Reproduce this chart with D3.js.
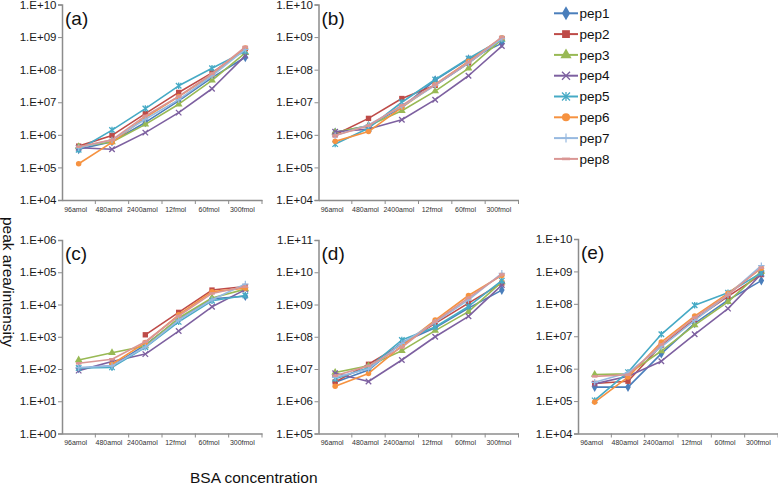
<!DOCTYPE html>
<html><head><meta charset="utf-8">
<script src="https://cdn.jsdelivr.net/npm/d3@7"></script>
<style>body{margin:0;background:#fff}svg{display:block}text{font-family:"Liberation Sans",Arial,sans-serif}</style>
</head><body><svg id="c" width="778" height="487"></svg>
<script>
const categories = ["96amol","480amol","2400amol","12fmol","60fmol","300fmol"];
const peptides = ["pep1","pep2","pep3","pep4","pep5","pep6","pep7","pep8"];
const colors = ["#4A7EBB","#BE4B48","#98B954","#7D60A0","#46AAC5","#F69240","#97B9E0","#DA9694"];
const markers = ["diamond","square","triangle","x","star","circle","plus","dash"];

const panelA = [
  [3.6e5,6.2e5,2.4e6,1.1e7,5.7e7,2.4e8],
  [4.5e5,9.6e5,4.5e6,2.0e7,8.0e7,4.4e8],
  [4.3e5,6.0e5,2.1e6,8.7e6,4.7e7,3.3e8],
  [4.0e5,3.6e5,1.17e6,4.8e6,2.6e7,2.7e8],
  [3.5e5,1.4e6,6.4e6,3.2e7,1.1e8,3.7e8],
  [1.3e5,5.9e5,3.4e6,1.5e7,7.0e7,4.6e8],
  [4.0e5,7.0e5,3.0e6,1.2e7,6.5e7,4.2e8],
  [4.3e5,7.0e5,3.8e6,1.5e7,7.5e7,5.0e8]
];
const panelB = [
  [1.2e6,1.9e6,7e6,4.8e7,2.1e8,6.4e8],
  [1.0e6,3.2e6,1.3e7,3.3e7,1.6e8,9e8],
  [1.2e6,1.9e6,5.5e6,2.2e7,1.1e8,8.5e8],
  [1.25e6,1.5e6,2.9e6,1.2e7,6.5e7,5.3e8],
  [5.2e5,1.6e6,1.0e7,5.0e7,2.2e8,8.5e8],
  [6.3e5,1.26e6,7e6,3.5e7,1.8e8,9.5e8],
  [9.5e5,2.0e6,7.5e6,3.3e7,1.6e8,9e8],
  [9.5e5,1.9e6,8e6,3.5e7,1.7e8,1.0e9]
];
const panelC = [
  [105,125,560,3500,15000,18000],
  [null,null,1150,5700,28000,36000],
  [190,320,520,3800,16000,30000],
  [89,170,290,1500,8500,29000],
  [107,112,470,2900,13000,19000],
  [null,140,660,4800,25000,32000],
  [110,125,480,3300,14000,43000],
  [150,200,700,4400,22000,36000]
];
const panelD = [
  [3.9e6,9.3e6,6.6e7,1.9e8,7.7e8,2.8e9],
  [4.0e6,1.4e7,5.8e7,2.6e8,1.1e9,4.6e9],
  [7.8e6,1.25e7,3.7e7,1.55e8,6e8,5e9],
  [7.4e6,4.1e6,1.9e7,1.0e8,4.3e8,4.0e9],
  [5e6,1.1e7,7.9e7,2.0e8,8.7e8,5.5e9],
  [2.9e6,7.3e6,5.2e7,3.3e8,1.9e9,8e9],
  [5.5e6,1.0e7,6.2e7,2.8e8,1.4e9,9.3e9],
  [6.2e6,1.25e7,4.7e7,3.0e8,1.6e9,8.5e9]
];
const panelE = [
  [2.7e5,2.7e5,2.9e6,2.5e7,1.3e8,5.2e8],
  [3.5e5,4.1e5,5.3e6,3.3e7,1.7e8,8e8],
  [6.6e5,6.9e5,3.5e6,2.2e7,1.15e8,1.0e9],
  [3.4e5,5.8e5,1.7e6,1.15e7,7.1e7,8.3e8],
  [1.05e5,7.8e5,1.15e7,9e7,2.2e8,9e8],
  [9.3e4,5.5e5,6.6e6,4.2e7,2.1e8,1.25e9],
  [3.8e5,7.5e5,4.7e6,3.1e7,1.9e8,1.5e9],
  [5.8e5,6.5e5,5.6e6,3.8e7,1.9e8,1.3e9]
];
const panelLabels = ["(a)","(b)","(c)","(d)","(e)"];
const panelDomains = [[1e4,1e10],[1e4,1e10],[1,1e6],[1e5,1e11],[1e4,1e10]];
const panelData = [panelA,panelB,panelC,panelD,panelE];

// layout
const layout = [
  {x:62, top:4.5, bottom:200},
  {x:318.5, top:4.5, bottom:200},
  {x:62, top:240, bottom:433.5},
  {x:318.5, top:240, bottom:433.5},
  {x:578, top:239, bottom:433.5}
];
const plotW = 200;
const axisColor = "#8c8c8c";
const svg = d3.select("#c");

function markerPath(type, size){
  const s = size;
  switch(type){
    case "diamond": return d3.symbol(d3.symbolDiamond, s*s*0.9)();
    case "square": return d3.symbol(d3.symbolSquare, s*s*0.95)();
    case "triangle": return d3.symbol(d3.symbolTriangle, s*s*0.85)();
    case "circle": return d3.symbol(d3.symbolCircle, s*s*0.8)();
    default: return null;
  }
}
function drawMarker(g, type, cx, cy, color, size){
  const h = size/2;
  if(["diamond","square","triangle","circle"].includes(type)){
    g.append("path").attr("d", markerPath(type,size)).attr("transform",`translate(${cx},${cy})`).attr("fill",color);
  } else if(type==="x"){
    g.append("path").attr("d",`M${cx-h},${cy-h}L${cx+h},${cy+h}M${cx-h},${cy+h}L${cx+h},${cy-h}`).attr("stroke",color).attr("stroke-width",1.3).attr("fill","none");
  } else if(type==="star"){
    g.append("path").attr("d",`M${cx-h},${cy-h}L${cx+h},${cy+h}M${cx-h},${cy+h}L${cx+h},${cy-h}M${cx},${cy-h-0.5}L${cx},${cy+h+0.5}`).attr("stroke",color).attr("stroke-width",1.3).attr("fill","none");
  } else if(type==="plus"){
    g.append("path").attr("d",`M${cx-h-0.5},${cy}L${cx+h+0.5},${cy}M${cx},${cy-h-0.5}L${cx},${cy+h+0.5}`).attr("stroke",color).attr("stroke-width",1.2).attr("fill","none");
  } else if(type==="dash"){
    g.append("path").attr("d",`M${cx-h},${cy}L${cx+h},${cy}`).attr("stroke",color).attr("stroke-width",2.6).attr("fill","none");
  }
}

const fmt = v => { const e = Math.round(Math.log10(v)); return "1.E+" + String(e).padStart(2,"0"); };

panelData.forEach((data, pi) => {
  const L = layout[pi];
  const x = d3.scaleBand().domain(categories).range([L.x, L.x+plotW]);
  const y = d3.scaleLog().domain(panelDomains[pi]).range([L.bottom, L.top]);
  const g = svg.append("g");

  // y axis
  const exps = d3.range(Math.log10(panelDomains[pi][0]), Math.log10(panelDomains[pi][1])+1);
  const tickVals = exps.map(e => Math.pow(10,e));
  const ya = g.append("g").attr("transform",`translate(${L.x},0)`)
    .call(d3.axisLeft(y).tickValues(tickVals).tickFormat(fmt).tickSize(4).tickPadding(1.5));
  ya.select(".domain").attr("stroke",axisColor).attr("stroke-width",1.5);
  ya.selectAll(".tick line").attr("stroke",axisColor).attr("stroke-width",1);
  ya.selectAll(".tick text").attr("fill","#1a1a1a").style("font-size","11.5px");

  // x axis
  const xa = g.append("g").attr("transform",`translate(0,${L.bottom})`)
    .call(d3.axisBottom(x).tickSize(0).tickPadding(7));
  xa.select(".domain").attr("stroke",axisColor).attr("stroke-width",1.5);
  xa.selectAll(".tick text").attr("fill","#333").style("font-size","7px").attr("dx","-3");
  // category separators
  g.append("g").selectAll("line").data(categories).join("line")
    .attr("x1", (d,i)=> L.x + x.bandwidth()*(i+1)).attr("x2",(d,i)=> L.x + x.bandwidth()*(i+1))
    .attr("y1", L.bottom).attr("y2", L.bottom+4).attr("stroke",axisColor).attr("stroke-width",1);

  // panel label
  g.append("text").attr("x", L.x+3).attr("y", L.top+20).text(panelLabels[pi]).style("font-size","19px").attr("fill","#111");

  // series
  const line = d3.line().defined(d=>d.v!=null).x(d=>x(d.c)+x.bandwidth()/2).y(d=>y(d.v));
  data.forEach((vals, si) => {
    const pts = vals.map((v,i)=>({c:categories[i], v}));
    g.append("path").datum(pts).attr("d", line).attr("fill","none")
      .attr("stroke", colors[si]).attr("stroke-width",1.6).attr("stroke-linejoin","round");
    const mg = g.append("g");
    pts.forEach(p => { if(p.v!=null) drawMarker(mg, markers[si], x(p.c)+x.bandwidth()/2, y(p.v), colors[si], 5.5); });
  });
});

// legend
const lg = svg.append("g");
peptides.forEach((p,i) => {
  const yy = 13.3 + i*20.8;
  lg.append("line").attr("x1",554).attr("x2",578).attr("y1",yy).attr("y2",yy).attr("stroke",colors[i]).attr("stroke-width",2);
  drawMarker(lg, markers[i], 566, yy, colors[i], 8);
  lg.append("text").attr("x",579.5).attr("y",yy).attr("dy","0.35em").text(p).style("font-size","13.5px").attr("fill","#111");
});

// axis titles
svg.append("text").attr("transform","translate(3,282) rotate(90)").attr("text-anchor","middle")
  .text("peak area/intensity").style("font-size","15.5px").attr("fill","#111");
svg.append("text").attr("x",190).attr("y",483).text("BSA concentration").style("font-size","15.5px").attr("fill","#111");
</script></body></html>
